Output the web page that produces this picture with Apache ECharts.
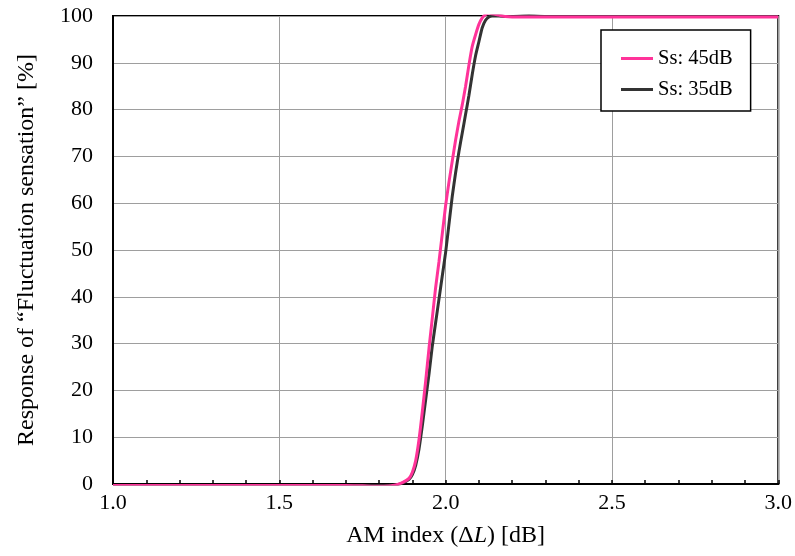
<!DOCTYPE html>
<html>
<head>
<meta charset="utf-8">
<script src="https://cdn.jsdelivr.net/npm/echarts@6/dist/echarts.min.js"></script>
<style>html,body{margin:0;padding:0;background:#fff}#c{width:795px;height:556px}</style>
</head>
<body>
<div id="c"></div>
<script>
// AM index (dB)
const amIndex = [1.00, 1.10, 1.20, 1.30, 1.40, 1.50, 1.60, 1.70, 1.75, 1.80, 1.83, 1.85, 1.87, 1.89, 1.90, 1.91, 1.92, 1.93, 1.94, 1.95, 1.96, 1.97, 1.98, 1.99, 2.00, 2.01, 2.02, 2.03, 2.04, 2.05, 2.06, 2.07, 2.08, 2.09, 2.10, 2.11, 2.12, 2.13, 2.14, 2.16, 2.18, 2.20, 2.25, 2.30, 2.40, 2.50, 2.60, 2.70, 2.80, 2.90, 3.00];
// Response [%] for Ss: 45dB
const resp45 = [-0.3, -0.3, -0.3, -0.3, -0.3, -0.3, -0.3, -0.3, -0.4, -0.5, -0.4, -0.2, 0.3, 1.2, 2.5, 5.0, 9.5, 15.5, 22.0, 29.0, 35.5, 42.0, 47.5, 53.5, 59.5, 64.5, 69.0, 73.5, 77.5, 81.0, 85.0, 89.5, 93.5, 96.0, 98.2, 99.6, 100.3, 100.6, 100.5, 100.2, 99.9, 99.8, 99.8, 99.8, 99.8, 99.8, 99.8, 99.8, 99.8, 99.8, 99.8];
// Response [%] for Ss: 35dB
const resp35 = [-0.3, -0.3, -0.3, -0.3, -0.3, -0.3, -0.3, -0.3, -0.3, -0.4, -0.3, -0.2, 0.2, 1.0, 2.0, 4.0, 7.5, 12.5, 18.0, 23.5, 29.5, 34.5, 39.5, 44.5, 49.5, 55.5, 61.5, 66.5, 71.0, 75.0, 79.0, 83.0, 87.5, 91.5, 94.5, 97.5, 99.1, 99.8, 100.0, 100.0, 99.9, 99.9, 100.1, 99.9, 99.9, 99.9, 99.9, 99.9, 99.9, 99.9, 99.9];
const seriesNames = ['Ss: 45dB', 'Ss: 35dB'];
const xTitle = 'AM index (Δ{i|L}) [dB]';
const yTitle = 'Response of “Fluctuation sensation” [%]';

const font = 'Liberation Serif';
const chart = echarts.init(document.getElementById('c'), null, {renderer: 'canvas'});
const pair = (vals) => amIndex.map((x, i) => [x, vals[i]]);

chart.setOption({
  animation: false,
  backgroundColor: '#fff',
  grid: {left: 113, right: 16, top: 16, bottom: 72, show: true, borderColor: '#000', borderWidth: 2, backgroundColor: 'transparent'},
  legend: {
    data: seriesNames,
    orient: 'vertical',
    left: 601, top: 30,
    padding: [18, 18, 11, 20],
    itemGap: 10,
    itemWidth: 32, itemHeight: 3,
    icon: 'rect',
    borderColor: '#000', borderWidth: 1.5,
    backgroundColor: '#fff',
    textStyle: {fontFamily: font, fontSize: 20.5, color: '#000', lineHeight: 20},
    itemStyle: {borderWidth: 0}
  },
  xAxis: {
    type: 'value', min: 1, max: 3, interval: 0.5,
    name: xTitle,
    nameLocation: 'middle', nameGap: 40,
    nameTextStyle: {fontFamily: font, fontSize: 24, color: '#000', rich: {i: {fontFamily: font, fontSize: 24, fontStyle: 'italic', color: '#000'}}},
    axisLine: {show: true, lineStyle: {color: '#000', width: 2}},
    axisTick: {show: true, inside: true, length: 4, lineStyle: {color: '#000', width: 1.5}},
    minorTick: {show: true, splitNumber: 5, length: 4, lineStyle: {color: '#000', width: 1.5}},
    axisLabel: {fontFamily: font, fontSize: 22, color: '#000', margin: 8, formatter: v => v.toFixed(1)},
    splitLine: {show: true, lineStyle: {color: '#9e9e9e', width: 1}}
  },
  yAxis: {
    type: 'value', min: 0, max: 100, interval: 10,
    name: yTitle,
    nameLocation: 'middle', nameGap: 74,
    nameTextStyle: {fontFamily: font, fontSize: 24, color: '#000'},
    axisLine: {show: true, lineStyle: {color: '#000', width: 2}},
    axisTick: {show: false},
    axisLabel: {fontFamily: font, fontSize: 22, color: '#000', margin: 20},
    splitLine: {show: true, lineStyle: {color: '#9e9e9e', width: 1}}
  },
  series: [
    {name: seriesNames[1], type: 'line', data: pair(resp35), showSymbol: false, smooth: 0.2, z: 2,
     lineStyle: {color: '#333333', width: 3}, itemStyle: {color: '#333333'}},
    {name: seriesNames[0], type: 'line', data: pair(resp45), showSymbol: false, smooth: 0.2, z: 3,
     lineStyle: {color: '#ff3399', width: 3}, itemStyle: {color: '#ff3399'}}
  ]
});
</script>
</body>
</html>
